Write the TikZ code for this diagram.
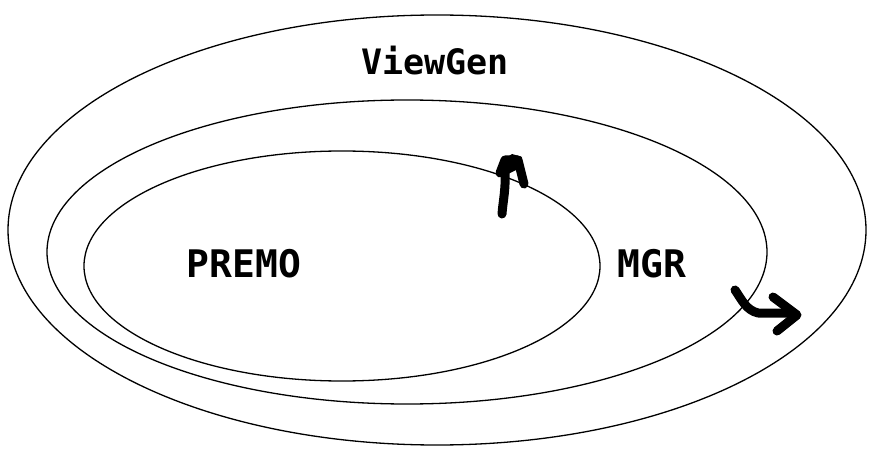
\documentclass[tikz,border=0pt]{standalone}
\usepackage{fontspec}
\setmonofont{DejaVu Sans Mono}
\usetikzlibrary{shapes.geometric}
\begin{document}
\begin{tikzpicture}[x=1pt,y=-1pt,
  ring/.style={ellipse,draw=black,line width=1.3pt,inner sep=0pt},
  lbl/.style={font=\ttfamily\bfseries\fontsize{38}{38}\selectfont,inner sep=0pt},
  hand/.style={line width=9pt,line cap=round,line join=round}]
\useasboundingbox (0,0) rectangle (870,473);
\fill[white] (0,0) rectangle (870,473);
\node[ring,minimum width=858pt,minimum height=430pt] (outer) at (437,230) {};
\node[ring,minimum width=720pt,minimum height=304pt] (middle) at (407,252) {};
\node[ring,minimum width=516pt,minimum height=230pt] (inner) at (342,266) {};
\node[lbl,font=\ttfamily\bfseries\fontsize{35}{35}\selectfont] (viewgen) at (435,61) {ViewGen};
\node[lbl] (premo) at (244,264) {PREMO};
\node[lbl] (mgr) at (652,264) {MGR};
% hand-drawn arrows
\draw[hand] (502,214) .. controls (503,200) and (506,190) .. (505,168);
\draw[hand] (500,173) -- (505,160) -- (518,160) -- (524,184);
\fill (500,162) -- (512,154) -- (522,157) -- (516,170) -- (504,176) -- cycle;
\draw[hand] (735,290) .. controls (742,300) and (746,310) .. (758,313) -- (790,313);
\draw[hand] (773,297) -- (797,315) -- (777,331);
\end{tikzpicture}
\end{document}
